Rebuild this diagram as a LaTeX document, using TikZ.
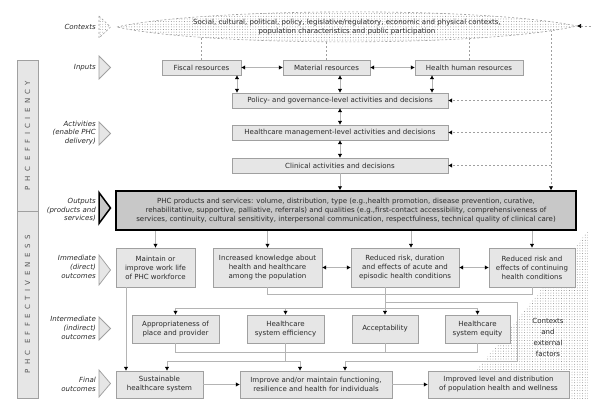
\documentclass[tikz,border=0pt]{standalone}
\usepackage{fontspec}
\setmainfont{DejaVu Sans}
\usetikzlibrary{arrows.meta, patterns, calc}
\definecolor{boxgray}{HTML}{E6E6E6}
\definecolor{outgray}{HTML}{C8C8C8}
\definecolor{edgegray}{HTML}{A0A0A0}
\definecolor{linegray}{HTML}{B4B4B4}
\definecolor{inkgray}{HTML}{2A2A2A}
\definecolor{bargray}{HTML}{555555}
% chevron on the level labels: style, mid y, half height
\newcommand{\chevron}[3]{%
    \draw[#1] (99, #2-#3) -- (110.5, #2) -- (99, #2+#3) -- cycle;
}

\begin{document}
\begin{tikzpicture}[x=0.4mm, y=-0.4mm,
    font=\fontsize{8}{10.2}\selectfont,
    box/.style 2 args={draw=edgegray, fill=boxgray, text=inkgray, align=center,
        inner sep=0pt, minimum width=#1*0.4mm, minimum height=#2*0.4mm},
    lab/.style={font=\fontsize{8}{10}\selectfont\itshape, text=inkgray, align=right,
        anchor=east, inner sep=0pt},
    bar/.style={draw=edgegray, fill=boxgray, text=bargray, rotate=90, inner sep=0pt,
        minimum height=21*0.4mm,
        font={\fontsize{8}{10}\selectfont\addfontfeatures{LetterSpace=62}}},
    chev/.style={draw=edgegray, fill=boxgray, line width=0.3mm},
    conn/.style={draw=linegray, line width=0.35mm},
    arr/.style={conn, -{Latex[length=1.6mm, width=1.8mm, color=black]}},
    dbl/.style={conn, {Latex[length=1.6mm, width=1.8mm, color=black]}-{Latex[length=1.6mm, width=1.8mm, color=black]}},
    ctxline/.style={draw=edgegray, line width=0.25mm, dash pattern=on 0.8mm off 0.8mm}]

\useasboundingbox (0, 0) rectangle (600, 417);

% side bars
\node[bar, minimum width=151*0.4mm] (effbar) at (27.5, 135.5) {PHC EFFICIENCY};
\node[bar, minimum width=187*0.4mm] (efvbar) at (27.5, 304.5) {PHC EFFECTIVENESS};

% level labels
\node[lab] (lctx) at (96, 27) {Contexts};
\node[lab] (lin) at (96, 67.5) {Inputs};
\node[lab] (lact) at (96, 133) {Activities\\(enable PHC\\delivery)};
\node[lab] (lout) at (96, 210) {Outputs\\(products and\\services)};
\node[lab] (limm) at (96, 267) {Immediate\\(direct)\\outcomes};
\node[lab] (lint) at (96, 328) {Intermediate\\(indirect)\\outcomes};
\node[lab] (lfin) at (96, 384) {Final\\outcomes};

\chevron{ctxline, pattern=dots, pattern color=gray}{27}{11}
\chevron{chev}{67.5}{11.5}
\chevron{chev}{133.5}{11.5}
\chevron{draw=black, fill=outgray, line width=0.6mm}{208}{15.5}
\chevron{chev}{270}{15}
\chevron{chev}{328.5}{11.5}
\chevron{chev}{383.5}{13.5}

% contexts and external factors
\fill[pattern=dots, pattern color=gray] (588, 231) -- (588, 400) -- (453, 400) -- cycle;
\node[align=center, text=inkgray, font=\fontsize{8}{12.4}\selectfont] (extf) at (548, 337.5)
    {Contexts\\and\\external\\factors};

% inputs
\node[box={79}{15}] (fiscal) at (201.5, 67.5) {Fiscal resources};
\node[box={87}{15}] (material) at (326.5, 67.5) {Material resources};
\node[box={108}{15}] (hhr) at (469, 67.5) {Health human resources};

% activities
\node[box={216}{15}] (policy) at (340, 100.5) {Policy- and governance-level activities and decisions};
\node[box={216}{15}] (mgmt) at (340, 132.5) {Healthcare management-level activities and decisions};
\node[box={216}{15}] (clinical) at (340, 165.5) {Clinical activities and decisions};

% outputs
\node[box={460}{39}, draw=black, line width=0.6mm, fill=outgray] (outputs) at (346, 210.5)
    {PHC products and services: volume, distribution, type (e.g.,health promotion, disease prevention, curative,\\
     rehabilitative, supportive, palliative, referrals) and qualities (e.g.,first-contact accessibility, comprehensiveness of\\
     services, continuity, cultural sensitivity, interpersonal communication, respectfulness, technical quality of clinical care)};

% immediate outcomes
\node[box={79}{39}] (maintain) at (155.5, 267.5) {Maintain or\\improve work life\\of PHC workforce};
\node[box={109}{39}] (knowledge) at (267.5, 267.5) {Increased knowledge about\\health and healthcare\\among the population};
\node[box={108}{39}] (acute) at (405, 267.5) {Reduced risk, duration\\and effects of acute and\\episodic health conditions};
\node[box={86}{39}] (chronic) at (532, 267.5) {Reduced risk and\\effects of continuing\\health conditions};

% intermediate outcomes
\node[box={87}{28}] (approp) at (175.5, 329) {Appropriateness of\\place and provider};
\node[box={77}{28}] (effic) at (285.5, 329) {Healthcare\\system efficiency};
\node[box={66}{28}] (accept) at (385, 329) {Acceptability};
\node[box={65}{28}] (equity) at (477.5, 329) {Healthcare\\system equity};

% final outcomes
\node[box={87}{27}] (sustain) at (159.5, 384.5) {Sustainable\\healthcare system};
\node[box={152}{27}] (improve) at (316, 384.5) {Improve and/or maintain functioning,\\resilience and health for individuals};
\node[box={141}{27}] (popul) at (498.5, 384.5) {Improved level and distribution\\of population health and wellness};

% contexts
\coordinate (ctxc) at (347, 27);
\coordinate (ctxr) at (551, 30);
\coordinate (ctxtip) at (577, 26);
\draw[ctxline] (fiscal.north) -- (fiscal.north |- ctxc);
\draw[ctxline] (material.north) -- (material.north |- ctxc);
\draw[ctxline] (hhr.north) -- (hhr.north |- ctxc);
\draw[ctxline, -{Latex[length=1.6mm, width=1.8mm, color=black]}] (ctxr) -- (ctxr |- outputs.north);
\draw[ctxline, -{Latex[length=1.6mm, width=1.8mm, color=black]}] (ctxr |- policy.east) -- (policy.east);
\draw[ctxline, -{Latex[length=1.6mm, width=1.8mm, color=black]}] (ctxr |- mgmt.east) -- (mgmt.east);
\draw[ctxline, -{Latex[length=1.6mm, width=1.8mm, color=black]}] (ctxr |- clinical.east) -- (clinical.east);
\path[ctxline, preaction={fill=white}, pattern=dots, pattern color=gray]
    (117, 27) .. controls (200, 8) and (480, 6) .. (ctxtip)
    .. controls (480, 48) and (200, 46) .. (117, 27) -- cycle;
\draw[ctxline, {Latex[length=1.6mm, width=1.8mm, color=black]}-] (ctxtip) -- ++(15, 0);
\node[align=center, text=inkgray] (ctx) at (ctxc)
    {Social, cultural, political, policy, legislative/regulatory, economic and physical contexts,\\
     population characteristics and public participation};

% inputs and activities
\draw[dbl] (fiscal.east) -- (material.west);
\draw[dbl] (material.east) -- (hhr.west);
\draw[dbl] (fiscal.south -| 237, 0) -- (policy.north -| 237, 0);
\draw[dbl] (material.south -| policy.north) -- (policy.north);
\draw[dbl] (hhr.south -| 432, 0) -- (policy.north -| 432, 0);
\draw[dbl] (policy.south) -- (mgmt.north);
\draw[dbl] (mgmt.south) -- (clinical.north);
\draw[arr] (clinical.south) -- (outputs.north -| clinical.south);

% outputs to immediate outcomes
\coordinate (acutein) at ($(acute.north)+(6, 0)$);
\draw[arr] (outputs.south -| maintain.north) -- (maintain.north);
\draw[arr] (outputs.south -| knowledge.north) -- (knowledge.north);
\draw[arr] (outputs.south -| acutein) -- (acutein);
\draw[arr] (outputs.south -| chronic.north) -- (chronic.north);
\draw[dbl] (knowledge.east) -- (acute.west);
\draw[dbl] (acute.east) -- (chronic.west);

% immediate to intermediate
\draw[conn] (knowledge.south) -- (knowledge.south |- 0, 294) -| (chronic.south);
\draw[arr] (acute.south -| accept.north) -- (accept.north);
\draw[conn] (approp.north |- 0, 308) -- (equity.north |- 0, 308);
\draw[arr] (approp.north |- 0, 308) -- (approp.north);
\draw[arr] (effic.north |- 0, 308) -- (effic.north);
\draw[arr] (equity.north |- 0, 308) -- (equity.north);
\draw[arr] (accept.north |- 0, 302) -- (517, 302) -- (517, 361) -| ($(improve.north)+(29, 0)$);

% intermediate to final
\draw[conn] (approp.south) -- (approp.south |- 0, 352) -- (equity.south |- 0, 352) -- (equity.south);
\draw[conn] (accept.south) -- (accept.south |- 0, 352);
\draw[conn] (effic.south) -- (effic.south |- 0, 361);
\draw[arr] (effic.south |- 0, 361) -| ($(sustain.north)+(7.5, 0)$);
\draw[arr] (effic.south |- 0, 361) -| ($(improve.north)+(-16, 0)$);
\coordinate (workout) at ($(maintain.south)+(-29.5, 0)$);
\draw[arr] (workout) -- (workout |- sustain.north);
\draw[arr] (sustain.east) -- (improve.west);
\draw[arr] (improve.east) -- (popul.west);
\end{tikzpicture}
\end{document}
